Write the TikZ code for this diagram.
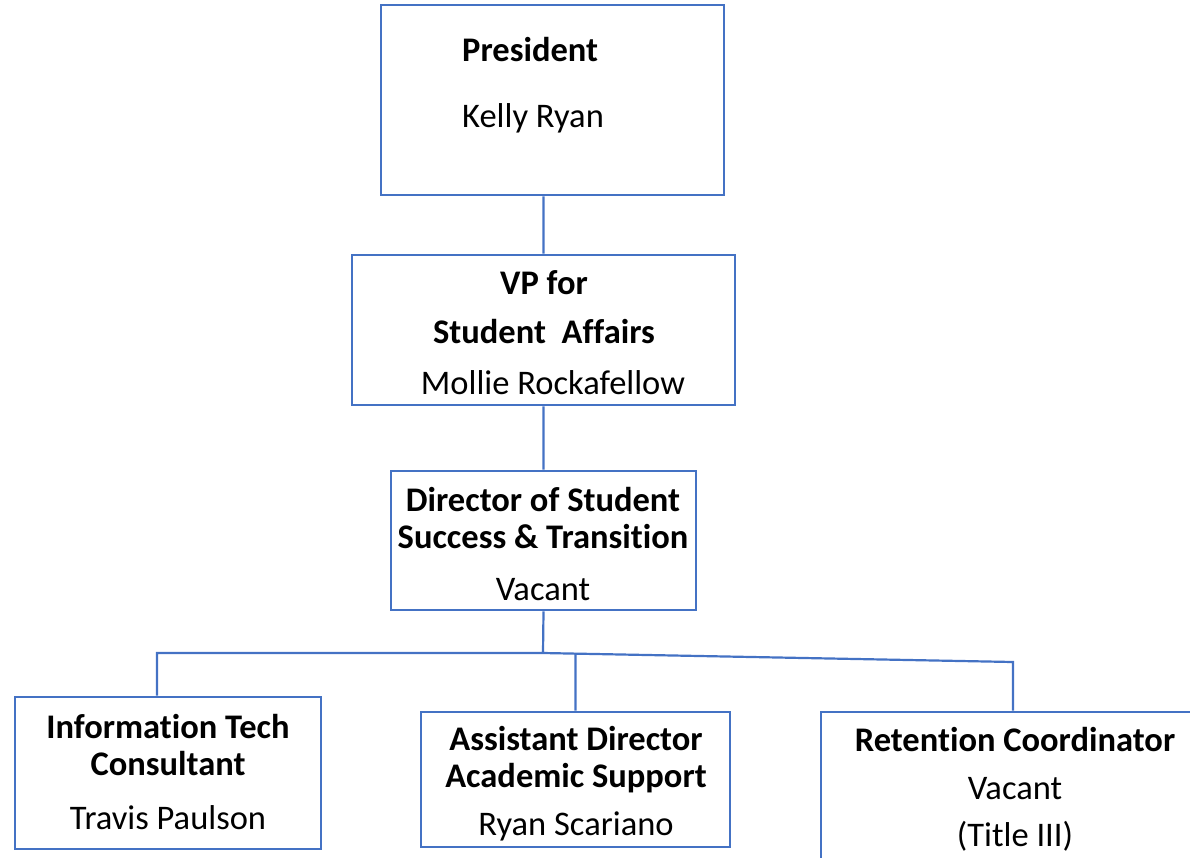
\documentclass[tikz,border=0pt]{standalone}
\usepackage{fontspec}
\setmainfont[RawFeature={-liga;-clig;-calt}]{Carlito}
\usetikzlibrary{positioning}
\definecolor{orgblue}{HTML}{4472C4}

\begin{document}
\begin{tikzpicture}[x=1pt, y=-1pt,
            box/.style = {draw=orgblue, line width=2.6pt, fill=white, inner sep=0pt},
            txt/.style = {align=center, inner sep=0pt,
                font=\fontsize{34.5}{37}\selectfont},
            link/.style = {draw=orgblue, line width=2.2pt}]
            \useasboundingbox (0,0) rectangle (1190,857);
            % boxes
            \node[box, minimum width=343pt, minimum height=190pt] (pres) at (552.5,100) {};
            \node[box, minimum width=383pt, minimum height=150pt] (vp) at (543.5,330) {};
            \node[box, minimum width=305pt, minimum height=139pt] (dir) at (543.5,540.5) {};
            \node[box, minimum width=306pt, minimum height=152pt] (it) at (168,773) {};
            \node[box, minimum width=309pt, minimum height=135pt] (asst) at (575.5,779.5) {};
            \node[box, minimum width=380pt, minimum height=155pt] (ret) at (1011,789.5) {};
            % texts
            \node[txt, align=left, anchor=west] (presT) at (462,85)
                {\textbf{President}\\[29pt]Kelly Ryan};
            \node[txt] (vpT) at (544,333)
                {\textbf{VP for}\\[12pt]\textbf{Student~~Affairs}\\[14pt]\hspace*{18pt}Mollie Rockafellow};
            \node[txt] (dirT) at (543,544.5)
                {\textbf{Director of Student}\\\textbf{Success \& Transition}\\[15pt]Vacant};
            \node[txt] (itT) at (168,772)
                {\textbf{Information Tech}\\\textbf{Consultant}\\[17pt]Travis Paulson};
            \node[txt] (asstT) at (576,784)
                {\textbf{Assistant Director}\\\textbf{Academic Support}\\[11pt]Ryan Scariano};
            \node[txt] (retT) at (1015,789.5)
                {\textbf{Retention Coordinator}\\[11pt]Vacant\\[10pt](Title III)};
            % connectors
            \coordinate (split) at (543,653);
            \coordinate (splitL) at (157,653);
            \coordinate (bendR) at (1013,662);
            \path[link]
                (vp.north) -- (vp.north |- pres.south)
                (vp.south) -- (dir.north)
                (dir.south) -- (split) -- (splitL) -- (splitL |- it.north)
                (split) -- (bendR) -- (bendR |- ret.north)
                (asst.north) -- (asst.north |- split);
        \end{tikzpicture}
\end{document}
